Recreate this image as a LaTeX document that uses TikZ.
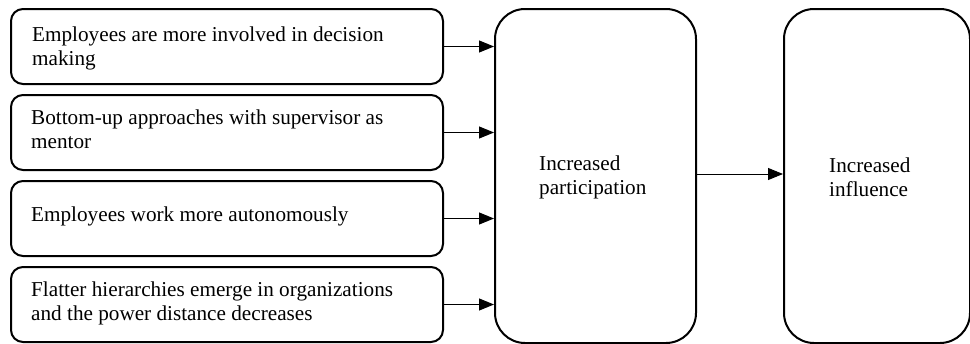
\documentclass[tikz,border=0pt]{standalone}
\usepackage{fontspec}
\setmainfont{Liberation Serif}
\usetikzlibrary{arrows.meta}
\begin{document}
\begin{tikzpicture}[x=1pt,y=-1pt,
  factor/.style={draw,line width=2pt,rounded corners=12pt,minimum width=432pt,
    minimum height=75pt,inner sep=0pt,anchor=north west},
  stage/.style={draw,line width=2pt,rounded corners=30pt,minimum height=334pt,
    inner sep=0pt,anchor=north west},
  label/.style={anchor=base west,inner sep=0pt,align=left,
    font=\fontsize{21.2}{24}\selectfont},
  arr/.style={line width=1pt,-{Triangle[length=15pt,width=12pt]}}]
\useasboundingbox (0,0) rectangle (970,343);
% factor boxes on the left
\node[factor] (b1) at (10,8) {};
\node[factor] (b2) at (10,94) {};
\node[factor] (b3) at (10,180) {};
\node[factor] (b4) at (10,266) {};
% the two outcome stages
\node[stage,minimum width=201pt] (mid) at (494,8) {};
\node[stage,minimum width=186pt] (out) at (783,8) {};
% texts (base anchor sits on the last line of a two-line label)
\node[label] (t1) at (32,65.5) {Employees are more involved in decision\\making};
\node[label] (t2) at (31,148.5) {Bottom-up approaches with supervisor as\\mentor};
\node[label] (t3) at (31,221.7) {Employees work more autonomously};
\node[label] (t4) at (31,320) {Flatter hierarchies emerge in organizations\\and the power distance decreases};
\node[label] (tm) at (539,194.5) {Increased\\participation};
\node[label] (to) at (829,196.5) {Increased\\influence};
% connectors
\foreach \b in {b1,b2,b3,b4}
  \draw[arr] (\b.east) -- (mid.west |- \b.east);
\draw[arr] ([yshift=2pt]mid.east) -- ([yshift=2pt]out.west);
\end{tikzpicture}
\end{document}
